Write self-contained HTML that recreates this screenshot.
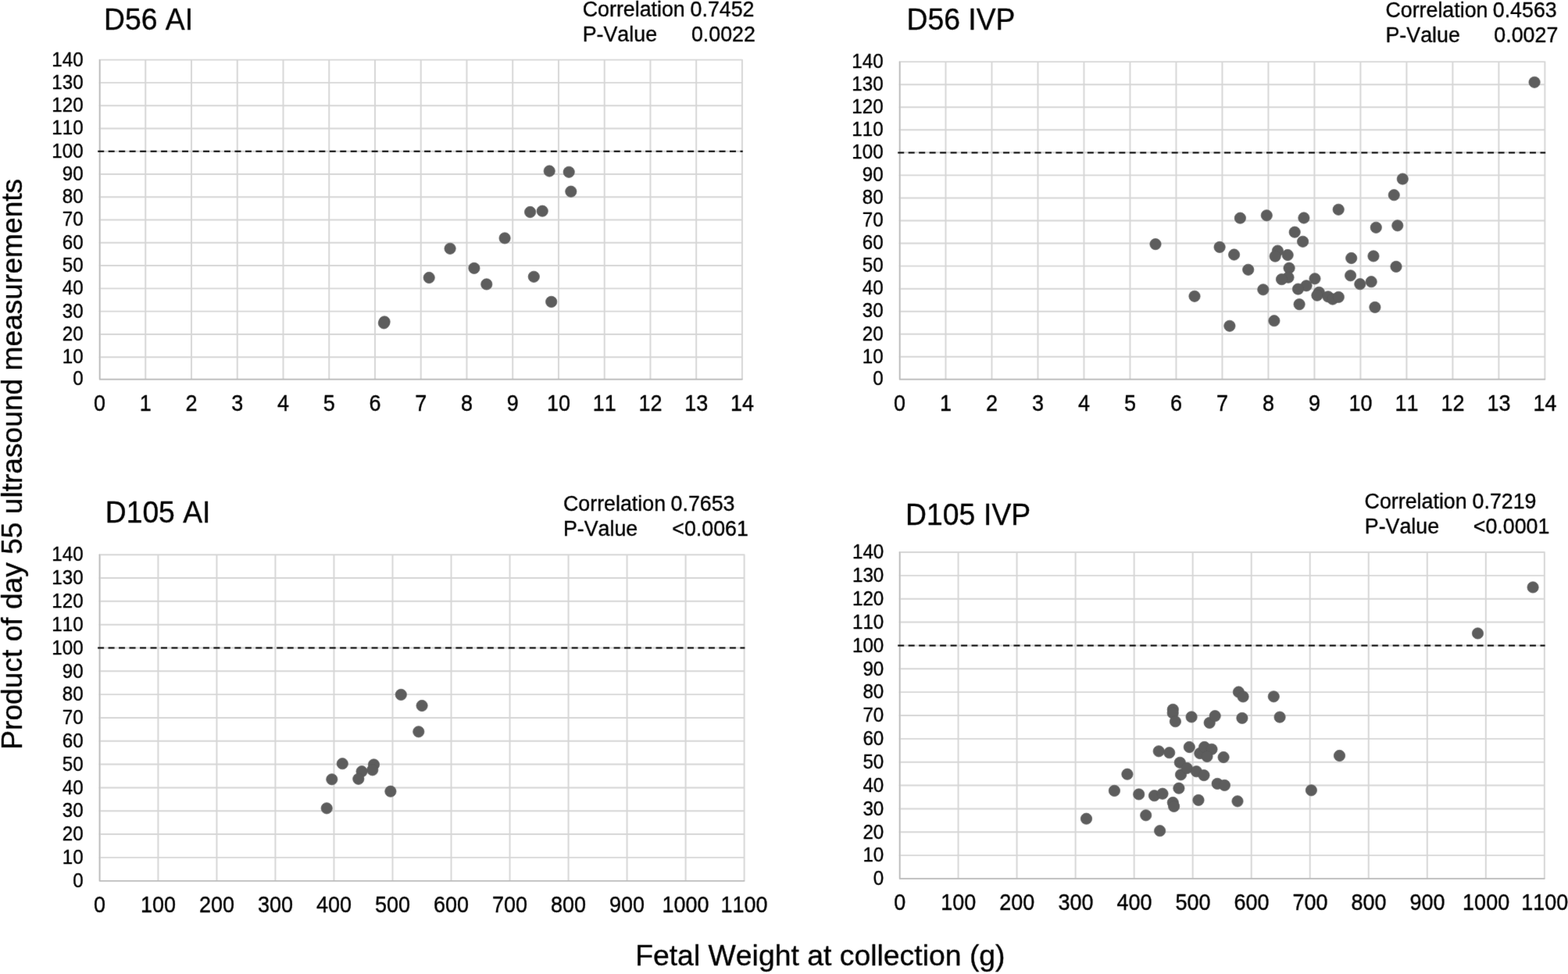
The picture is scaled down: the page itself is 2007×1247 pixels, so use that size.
<!DOCTYPE html>
<html lang="en">
<head>
<meta charset="utf-8">
<title>Fetal weight vs day 55 ultrasound measurements</title>
<style>
html,body{margin:0;padding:0;background:#fff;}
body{width:2007px;height:1247px;}
svg{display:block;}
text{font-family:"Liberation Sans", Arial, Helvetica, sans-serif;fill:#000;font-kerning:none;stroke:#000;stroke-width:0.35px;stroke-linejoin:round;}
.yt{font-size:24.2px;text-anchor:end;}
.xt{font-size:27px;text-anchor:middle;}
.ti{font-size:37.3px;}
.co{font-size:26.8px;}
.al{font-size:37.15px;}
.ax{font-size:37.37px;}
.g{stroke:#d6d6d6;stroke-width:1.95;fill:none;stroke-linecap:round;}
.a{stroke:#b8b8b8;stroke-width:1.4;fill:none;stroke-linejoin:round;stroke-linecap:round;}
.d{stroke:#000;stroke-width:2;stroke-dasharray:8 5.48;fill:none;}
.p circle{fill:#5d5d5d;stroke:#595959;stroke-width:0.7;}
</style>
</head>
<body>
<svg width="2007" height="1247" viewBox="0 0 2007 1247">
<rect x="0" y="0" width="2007" height="1247" fill="#ffffff"/>
<defs><filter id="soft" x="0" y="0" width="2007" height="1247" filterUnits="userSpaceOnUse" color-interpolation-filters="sRGB"><feConvolveMatrix order="3" kernelMatrix="0.0072 0.0847 0.0072 0.0847 1.0000 0.0847 0.0072 0.0847 0.0072" edgeMode="duplicate" preserveAlpha="true"/></filter></defs>
<g filter="url(#soft)">
<rect x="0" y="0" width="2007" height="1247" fill="#ffffff"/>
<g id="c1">
<path class="g" d="M127.5 457.18H949.95M127.5 427.9H949.95M127.5 398.62H949.95M127.5 369.35H949.95M127.5 340.07H949.95M127.5 310.8H949.95M127.5 281.52H949.95M127.5 252.25H949.95M127.5 222.97H949.95M127.5 193.7H949.95M127.5 164.42H949.95M127.5 135.15H949.95M127.5 105.88H949.95M127.5 76.6H949.95M186.25 76.6V485.45M244.99 76.6V485.45M303.74 76.6V485.45M362.49 76.6V485.45M421.23 76.6V485.45M479.98 76.6V485.45M538.73 76.6V485.45M597.47 76.6V485.45M656.22 76.6V485.45M714.96 76.6V485.45M773.71 76.6V485.45M832.46 76.6V485.45M891.2 76.6V485.45M949.95 76.6V485.45M127.9 76.6V485.85H949.95"/>
<path class="a" d="M127.5 76.6V485.45H949.95"/>
<path class="d" d="M125.2 193.7H950.75"/>
<g class="p"><circle cx="703.2" cy="219" r="7.15"/><circle cx="728.2" cy="220.3" r="7.15"/><circle cx="730.8" cy="245.2" r="7.15"/><circle cx="678.6" cy="271.5" r="7.15"/><circle cx="694.2" cy="270.2" r="7.15"/><circle cx="646.1" cy="304.9" r="7.15"/><circle cx="576.1" cy="318.3" r="7.15"/><circle cx="606.9" cy="343.4" r="7.15"/><circle cx="549.2" cy="355.5" r="7.15"/><circle cx="622.8" cy="363.9" r="7.15"/><circle cx="683.3" cy="354.3" r="7.15"/><circle cx="705.7" cy="386.4" r="7.15"/><circle cx="492.1" cy="411.9" r="7.15"/><circle cx="491.4" cy="413.8" r="7.15"/></g>
<g class="yt"><text transform="matrix(1 0 0 1.035 106.7 493.4)">0</text><text transform="matrix(1 0 0 1.035 106.7 465.12)">10</text><text transform="matrix(1 0 0 1.035 106.7 435.85)">20</text><text transform="matrix(1 0 0 1.035 106.7 406.57)">30</text><text transform="matrix(1 0 0 1.035 106.7 377.3)">40</text><text transform="matrix(1 0 0 1.035 106.7 348.02)">50</text><text transform="matrix(1 0 0 1.035 106.7 318.75)">60</text><text transform="matrix(1 0 0 1.035 106.7 289.47)">70</text><text transform="matrix(1 0 0 1.035 106.7 260.2)">80</text><text transform="matrix(1 0 0 1.035 106.7 230.92)">90</text><text transform="matrix(1 0 0 1.035 106.7 201.65)">100</text><text transform="matrix(1 0 0 1.035 106.7 172.37)">110</text><text transform="matrix(1 0 0 1.035 106.7 143.1)">120</text><text transform="matrix(1 0 0 1.035 106.7 113.83)">130</text><text transform="matrix(1 0 0 1.035 106.7 84.55)">140</text></g>
<g class="xt"><text transform="matrix(1 0 0 1.065 127.5 526.15)">0</text><text transform="matrix(1 0 0 1.065 186.25 526.15)">1</text><text transform="matrix(1 0 0 1.065 244.99 526.15)">2</text><text transform="matrix(1 0 0 1.065 303.74 526.15)">3</text><text transform="matrix(1 0 0 1.065 362.49 526.15)">4</text><text transform="matrix(1 0 0 1.065 421.23 526.15)">5</text><text transform="matrix(1 0 0 1.065 479.98 526.15)">6</text><text transform="matrix(1 0 0 1.065 538.73 526.15)">7</text><text transform="matrix(1 0 0 1.065 597.47 526.15)">8</text><text transform="matrix(1 0 0 1.065 656.22 526.15)">9</text><text transform="matrix(1 0 0 1.065 714.96 526.15)">10</text><text transform="matrix(1 0 0 1.065 773.71 526.15)">11</text><text transform="matrix(1 0 0 1.065 832.46 526.15)">12</text><text transform="matrix(1 0 0 1.065 891.2 526.15)">13</text><text transform="matrix(1 0 0 1.065 949.95 526.15)">14</text></g>
<text class="ti" transform="matrix(1 0 0 1.015 133 38.1)">D56 AI</text>
<text class="co" transform="matrix(1 0 0 1.000 745.7 20.6)">Correlation</text>
<text class="co" text-anchor="end" transform="matrix(1 0 0 1.040 965.5 20.6)">0.7452</text>
<text class="co" transform="matrix(1 0 0 1.000 745.7 52.7)">P-Value</text>
<text class="co" text-anchor="end" transform="matrix(1 0 0 1.040 966.9 52.7)">0.0022</text>
</g>
<g id="c2">
<path class="g" d="M1151.5 456.84H1977.4M1151.5 427.79H1977.4M1151.5 398.73H1977.4M1151.5 369.67H1977.4M1151.5 340.61H1977.4M1151.5 311.56H1977.4M1151.5 282.5H1977.4M1151.5 253.44H1977.4M1151.5 224.39H1977.4M1151.5 195.33H1977.4M1151.5 166.27H1977.4M1151.5 137.21H1977.4M1151.5 108.16H1977.4M1151.5 79.1H1977.4M1210.49 79.1V485.45M1269.49 79.1V485.45M1328.48 79.1V485.45M1387.47 79.1V485.45M1446.46 79.1V485.45M1505.46 79.1V485.45M1564.45 79.1V485.45M1623.44 79.1V485.45M1682.44 79.1V485.45M1741.43 79.1V485.45M1800.42 79.1V485.45M1859.41 79.1V485.45M1918.41 79.1V485.45M1977.4 79.1V485.45M1151.9 79.1V485.85H1977.4"/>
<path class="a" d="M1151.5 79.1V485.45H1977.4"/>
<path class="d" d="M1149.2 195.4H1978.2"/>
<g class="p"><circle cx="1479" cy="312.6" r="7.15"/><circle cx="1561.1" cy="316.4" r="7.15"/><circle cx="1579.6" cy="326" r="7.15"/><circle cx="1587.4" cy="279.2" r="7.15"/><circle cx="1621.3" cy="275.8" r="7.15"/><circle cx="1668.9" cy="279" r="7.15"/><circle cx="1713.2" cy="268.3" r="7.15"/><circle cx="1657.2" cy="297.2" r="7.15"/><circle cx="1667.6" cy="309.3" r="7.15"/><circle cx="1635.4" cy="321.1" r="7.15"/><circle cx="1632.2" cy="328.1" r="7.15"/><circle cx="1648.2" cy="326.5" r="7.15"/><circle cx="1650.1" cy="343.2" r="7.15"/><circle cx="1649" cy="355.2" r="7.15"/><circle cx="1640.5" cy="357.6" r="7.15"/><circle cx="1597.7" cy="345.3" r="7.15"/><circle cx="1616.8" cy="370.8" r="7.15"/><circle cx="1529" cy="379.3" r="7.15"/><circle cx="1683" cy="356.8" r="7.15"/><circle cx="1672.1" cy="365.8" r="7.15"/><circle cx="1661.5" cy="370.1" r="7.15"/><circle cx="1663.1" cy="389.6" r="7.15"/><circle cx="1688.3" cy="374.3" r="7.15"/><circle cx="1685.9" cy="378.2" r="7.15"/><circle cx="1699.9" cy="379.8" r="7.15"/><circle cx="1705.8" cy="383" r="7.15"/><circle cx="1713.3" cy="380.4" r="7.15"/><circle cx="1729.7" cy="330.5" r="7.15"/><circle cx="1728.6" cy="352.8" r="7.15"/><circle cx="1740.8" cy="363.7" r="7.15"/><circle cx="1755.2" cy="360.7" r="7.15"/><circle cx="1630.9" cy="410.7" r="7.15"/><circle cx="1573.9" cy="417.3" r="7.15"/><circle cx="1964.1" cy="105.3" r="7.15"/><circle cx="1795.3" cy="229.1" r="7.15"/><circle cx="1784.3" cy="249.7" r="7.15"/><circle cx="1761.3" cy="291.3" r="7.15"/><circle cx="1788.8" cy="288.8" r="7.15"/><circle cx="1758" cy="327.9" r="7.15"/><circle cx="1787" cy="341.4" r="7.15"/><circle cx="1759.9" cy="393.4" r="7.15"/></g>
<g class="yt"><text transform="matrix(1 0 0 1.035 1130.7 493.2)">0</text><text transform="matrix(1 0 0 1.035 1130.7 464.59)">10</text><text transform="matrix(1 0 0 1.035 1130.7 435.54)">20</text><text transform="matrix(1 0 0 1.035 1130.7 406.48)">30</text><text transform="matrix(1 0 0 1.035 1130.7 377.42)">40</text><text transform="matrix(1 0 0 1.035 1130.7 348.36)">50</text><text transform="matrix(1 0 0 1.035 1130.7 319.31)">60</text><text transform="matrix(1 0 0 1.035 1130.7 290.25)">70</text><text transform="matrix(1 0 0 1.035 1130.7 261.19)">80</text><text transform="matrix(1 0 0 1.035 1130.7 232.14)">90</text><text transform="matrix(1 0 0 1.035 1130.7 203.08)">100</text><text transform="matrix(1 0 0 1.035 1130.7 174.02)">110</text><text transform="matrix(1 0 0 1.035 1130.7 144.96)">120</text><text transform="matrix(1 0 0 1.035 1130.7 115.91)">130</text><text transform="matrix(1 0 0 1.035 1130.7 86.85)">140</text></g>
<g class="xt"><text transform="matrix(1 0 0 1.065 1151.5 526.15)">0</text><text transform="matrix(1 0 0 1.065 1210.49 526.15)">1</text><text transform="matrix(1 0 0 1.065 1269.49 526.15)">2</text><text transform="matrix(1 0 0 1.065 1328.48 526.15)">3</text><text transform="matrix(1 0 0 1.065 1387.47 526.15)">4</text><text transform="matrix(1 0 0 1.065 1446.46 526.15)">5</text><text transform="matrix(1 0 0 1.065 1505.46 526.15)">6</text><text transform="matrix(1 0 0 1.065 1564.45 526.15)">7</text><text transform="matrix(1 0 0 1.065 1623.44 526.15)">8</text><text transform="matrix(1 0 0 1.065 1682.44 526.15)">9</text><text transform="matrix(1 0 0 1.065 1741.43 526.15)">10</text><text transform="matrix(1 0 0 1.065 1800.42 526.15)">11</text><text transform="matrix(1 0 0 1.065 1859.41 526.15)">12</text><text transform="matrix(1 0 0 1.065 1918.41 526.15)">13</text><text transform="matrix(1 0 0 1.065 1977.4 526.15)">14</text></g>
<text class="ti" transform="matrix(1 0 0 1.015 1160.5 37.6)">D56 IVP</text>
<text class="co" transform="matrix(1 0 0 1.000 1773.4 22.4)">Correlation</text>
<text class="co" text-anchor="end" transform="matrix(1 0 0 1.040 1992.7 22.4)">0.4563</text>
<text class="co" transform="matrix(1 0 0 1.000 1773.5 54.4)">P-Value</text>
<text class="co" text-anchor="end" transform="matrix(1 0 0 1.040 1994.3 54.4)">0.0027</text>
</g>
<g id="c3">
<path class="g" d="M127.4 1097.88H952.6M127.4 1068.06H952.6M127.4 1038.24H952.6M127.4 1008.41H952.6M127.4 978.59H952.6M127.4 948.77H952.6M127.4 918.95H952.6M127.4 889.13H952.6M127.4 859.31H952.6M127.4 829.49H952.6M127.4 799.66H952.6M127.4 769.84H952.6M127.4 740.02H952.6M127.4 710.2H952.6M202.42 710.2V1127.6M277.44 710.2V1127.6M352.45 710.2V1127.6M427.47 710.2V1127.6M502.49 710.2V1127.6M577.51 710.2V1127.6M652.53 710.2V1127.6M727.55 710.2V1127.6M802.56 710.2V1127.6M877.58 710.2V1127.6M952.6 710.2V1127.6M127.8 710.2V1128H952.6"/>
<path class="a" d="M127.4 710.2V1127.6H952.6"/>
<path class="d" d="M125.1 829.5H953.4"/>
<g class="p"><circle cx="513.3" cy="889.4" r="7.15"/><circle cx="540.1" cy="903.5" r="7.15"/><circle cx="535.8" cy="936.8" r="7.15"/><circle cx="438.3" cy="977.7" r="7.15"/><circle cx="478.5" cy="978.9" r="7.15"/><circle cx="476.8" cy="985.8" r="7.15"/><circle cx="463.1" cy="987.7" r="7.15"/><circle cx="458.8" cy="997.3" r="7.15"/><circle cx="424.8" cy="997.8" r="7.15"/><circle cx="499.9" cy="1013.2" r="7.15"/><circle cx="418.2" cy="1034.8" r="7.15"/></g>
<g class="yt"><text transform="matrix(1 0 0 1.035 106.6 1135.85)">0</text><text transform="matrix(1 0 0 1.035 106.6 1106.13)">10</text><text transform="matrix(1 0 0 1.035 106.6 1076.31)">20</text><text transform="matrix(1 0 0 1.035 106.6 1046.49)">30</text><text transform="matrix(1 0 0 1.035 106.6 1016.66)">40</text><text transform="matrix(1 0 0 1.035 106.6 986.84)">50</text><text transform="matrix(1 0 0 1.035 106.6 957.02)">60</text><text transform="matrix(1 0 0 1.035 106.6 927.2)">70</text><text transform="matrix(1 0 0 1.035 106.6 897.38)">80</text><text transform="matrix(1 0 0 1.035 106.6 867.56)">90</text><text transform="matrix(1 0 0 1.035 106.6 837.74)">100</text><text transform="matrix(1 0 0 1.035 106.6 807.91)">110</text><text transform="matrix(1 0 0 1.035 106.6 778.09)">120</text><text transform="matrix(1 0 0 1.035 106.6 748.27)">130</text><text transform="matrix(1 0 0 1.035 106.6 718.45)">140</text></g>
<g class="xt"><text transform="matrix(1 0 0 1.065 127.4 1168.3)">0</text><text transform="matrix(1 0 0 1.065 202.42 1168.3)">100</text><text transform="matrix(1 0 0 1.065 277.44 1168.3)">200</text><text transform="matrix(1 0 0 1.065 352.45 1168.3)">300</text><text transform="matrix(1 0 0 1.065 427.47 1168.3)">400</text><text transform="matrix(1 0 0 1.065 502.49 1168.3)">500</text><text transform="matrix(1 0 0 1.065 577.51 1168.3)">600</text><text transform="matrix(1 0 0 1.065 652.53 1168.3)">700</text><text transform="matrix(1 0 0 1.065 727.55 1168.3)">800</text><text transform="matrix(1 0 0 1.065 802.56 1168.3)">900</text><text transform="matrix(1 0 0 1.065 877.58 1168.3)">1000</text><text transform="matrix(1 0 0 1.065 952.6 1168.3)">1100</text></g>
<text class="ti" transform="matrix(1 0 0 1.015 134.7 669.1)">D105 AI</text>
<text class="co" transform="matrix(1 0 0 1.000 721 654)">Correlation</text>
<text class="co" text-anchor="end" transform="matrix(1 0 0 1.040 940.5 654)">0.7653</text>
<text class="co" transform="matrix(1 0 0 1.000 720.9 686.1)">P-Value</text>
<text class="co" text-anchor="end" transform="matrix(1 0 0 1.040 957.9 686.1)">&lt;0.0061</text>
</g>
<g id="c4">
<path class="g" d="M1151.5 1095.14H1976.85M1151.5 1065.29H1976.85M1151.5 1035.43H1976.85M1151.5 1005.57H1976.85M1151.5 975.71H1976.85M1151.5 945.86H1976.85M1151.5 916H1976.85M1151.5 886.14H1976.85M1151.5 856.29H1976.85M1151.5 826.43H1976.85M1151.5 796.57H1976.85M1151.5 766.71H1976.85M1151.5 736.86H1976.85M1151.5 707H1976.85M1226.53 707V1124.7M1301.56 707V1124.7M1376.6 707V1124.7M1451.63 707V1124.7M1526.66 707V1124.7M1601.69 707V1124.7M1676.72 707V1124.7M1751.75 707V1124.7M1826.79 707V1124.7M1901.82 707V1124.7M1976.85 707V1124.7M1151.9 707V1125.1H1976.85"/>
<path class="a" d="M1151.5 707V1124.7H1976.85"/>
<path class="d" d="M1149.2 826.5H1977.65"/>
<g class="p"><circle cx="1390.5" cy="1048.2" r="7.15"/><circle cx="1426.4" cy="1012.4" r="7.15"/><circle cx="1442.9" cy="991.2" r="7.15"/><circle cx="1457.7" cy="1016.9" r="7.15"/><circle cx="1466.7" cy="1043.8" r="7.15"/><circle cx="1477.5" cy="1018.7" r="7.15"/><circle cx="1488" cy="1016.2" r="7.15"/><circle cx="1483.2" cy="961.8" r="7.15"/><circle cx="1496.7" cy="963.7" r="7.15"/><circle cx="1501.3" cy="908.4" r="7.15"/><circle cx="1501.2" cy="912.9" r="7.15"/><circle cx="1504.4" cy="923.7" r="7.15"/><circle cx="1501.3" cy="1027.5" r="7.15"/><circle cx="1502.6" cy="1032.4" r="7.15"/><circle cx="1508.9" cy="1009.2" r="7.15"/><circle cx="1511.5" cy="991.8" r="7.15"/><circle cx="1510.3" cy="976.3" r="7.15"/><circle cx="1519.3" cy="983.5" r="7.15"/><circle cx="1522.3" cy="956.5" r="7.15"/><circle cx="1525.1" cy="917.9" r="7.15"/><circle cx="1531.4" cy="987.7" r="7.15"/><circle cx="1541" cy="992.6" r="7.15"/><circle cx="1534" cy="1024.4" r="7.15"/><circle cx="1535.8" cy="964.5" r="7.15"/><circle cx="1541.6" cy="956.5" r="7.15"/><circle cx="1551" cy="959.3" r="7.15"/><circle cx="1545" cy="968.5" r="7.15"/><circle cx="1566.1" cy="969.5" r="7.15"/><circle cx="1548.2" cy="925.4" r="7.15"/><circle cx="1555.2" cy="916.6" r="7.15"/><circle cx="1558.2" cy="1003.4" r="7.15"/><circle cx="1567.4" cy="1005.4" r="7.15"/><circle cx="1584" cy="1025.8" r="7.15"/><circle cx="1585.4" cy="886" r="7.15"/><circle cx="1591.1" cy="891.9" r="7.15"/><circle cx="1589.9" cy="919.4" r="7.15"/><circle cx="1630.3" cy="891.8" r="7.15"/><circle cx="1638.1" cy="918.1" r="7.15"/><circle cx="1678.4" cy="1011.8" r="7.15"/><circle cx="1484.6" cy="1063.7" r="7.15"/><circle cx="1714.5" cy="967.5" r="7.15"/><circle cx="1891.5" cy="810.9" r="7.15"/><circle cx="1962.1" cy="751.9" r="7.15"/></g>
<g class="yt"><text transform="matrix(1 0 0 1.035 1131.3 1132.95)">0</text><text transform="matrix(1 0 0 1.035 1131.3 1103.39)">10</text><text transform="matrix(1 0 0 1.035 1131.3 1073.54)">20</text><text transform="matrix(1 0 0 1.035 1131.3 1043.68)">30</text><text transform="matrix(1 0 0 1.035 1131.3 1013.82)">40</text><text transform="matrix(1 0 0 1.035 1131.3 983.96)">50</text><text transform="matrix(1 0 0 1.035 1131.3 954.11)">60</text><text transform="matrix(1 0 0 1.035 1131.3 924.25)">70</text><text transform="matrix(1 0 0 1.035 1131.3 894.39)">80</text><text transform="matrix(1 0 0 1.035 1131.3 864.54)">90</text><text transform="matrix(1 0 0 1.035 1131.3 834.68)">100</text><text transform="matrix(1 0 0 1.035 1131.3 804.82)">110</text><text transform="matrix(1 0 0 1.035 1131.3 774.96)">120</text><text transform="matrix(1 0 0 1.035 1131.3 745.11)">130</text><text transform="matrix(1 0 0 1.035 1131.3 715.25)">140</text></g>
<g class="xt"><text transform="matrix(1 0 0 1.065 1151.8 1165.4)">0</text><text transform="matrix(1 0 0 1.065 1226.83 1165.4)">100</text><text transform="matrix(1 0 0 1.065 1301.86 1165.4)">200</text><text transform="matrix(1 0 0 1.065 1376.9 1165.4)">300</text><text transform="matrix(1 0 0 1.065 1451.93 1165.4)">400</text><text transform="matrix(1 0 0 1.065 1526.96 1165.4)">500</text><text transform="matrix(1 0 0 1.065 1601.99 1165.4)">600</text><text transform="matrix(1 0 0 1.065 1677.02 1165.4)">700</text><text transform="matrix(1 0 0 1.065 1752.05 1165.4)">800</text><text transform="matrix(1 0 0 1.065 1827.09 1165.4)">900</text><text transform="matrix(1 0 0 1.065 1902.12 1165.4)">1000</text><text transform="matrix(1 0 0 1.065 1977.15 1165.4)">1100</text></g>
<text class="ti" letter-spacing="0.1" transform="matrix(1 0 0 1.015 1158.9 671.6)">D105 IVP</text>
<text class="co" transform="matrix(1 0 0 1.000 1746.6 651.4)">Correlation</text>
<text class="co" text-anchor="end" transform="matrix(1 0 0 1.040 1966.5 651.4)">0.7219</text>
<text class="co" transform="matrix(1 0 0 1.000 1746.8 683.4)">P-Value</text>
<text class="co" text-anchor="end" transform="matrix(1 0 0 1.040 1983.4 683.4)">&lt;0.0001</text>
</g>
<text class="al" transform="translate(28.2 594.25) rotate(-90) scale(1 1)" text-anchor="middle">Product of day 55 ultrasound measurements</text>
<text class="ax" text-anchor="middle" transform="matrix(1 0 0 1.000 1049.85 1236.3)">Fetal Weight at collection (g)</text>
</g>
</svg>
</body>
</html>
